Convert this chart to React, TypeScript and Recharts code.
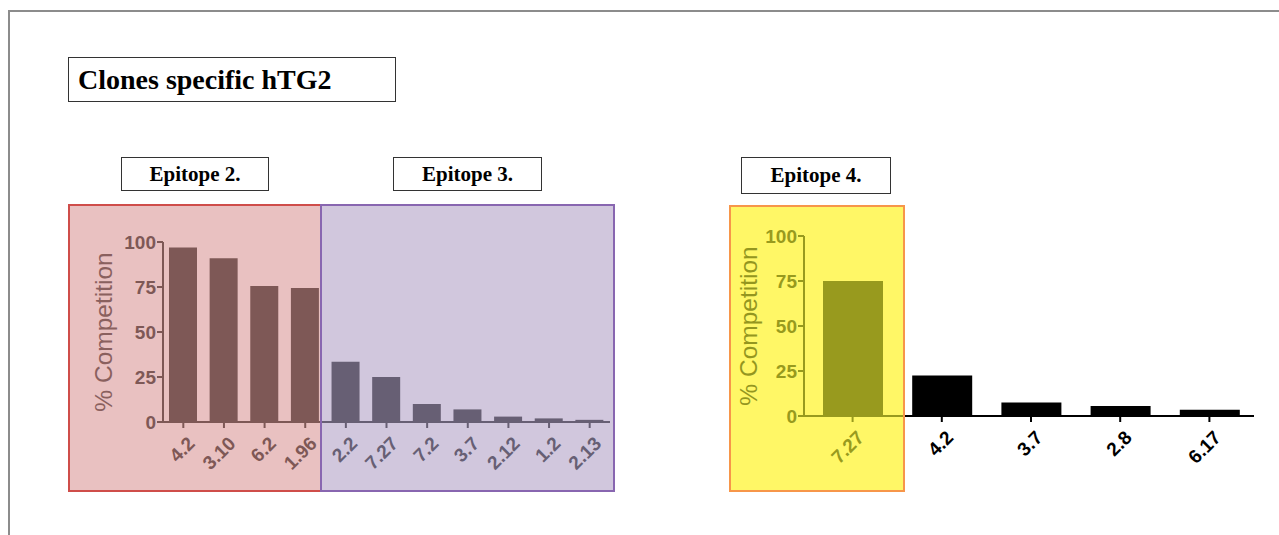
import { BarChart, Bar, Cell, XAxis, YAxis } from "recharts"

// clones tested against hTG2, grouped by epitope
const leftClones = ["4.2", "3.10", "6.2", "1.96", "2.2", "7.27", "7.2", "3.7", "2.12", "1.2", "2.13"]
const leftValues = [97, 91, 75.5, 74.5, 33.5, 25, 10, 7, 3, 2, 1.2]
const epitope2Count = 4 // first four clones belong to epitope 2, the rest to epitope 3

const rightClones = ["7.27", "4.2", "3.7", "2.8", "6.17"]
const rightValues = [75, 22.5, 7.5, 5.5, 3.5]
const epitope4Count = 1

const yTicks = [0, 25, 50, 75, 100]

const leftData = leftClones.map((clone, i) => ({ clone, value: leftValues[i] }))
const rightData = rightClones.map((clone, i) => ({ clone, value: rightValues[i] }))

const SANS = "'Liberation Sans', Arial, sans-serif"
const SERIF = "'Liberation Serif', 'Times New Roman', serif"

const RED_BG = "#e9c1c1"
const RED_BORDER = "#cf4d4a"
const RED_INK = "#7e5856"
const RED_LABEL = "#8a605e"
const PURPLE_BG = "#d1c7dd"
const PURPLE_BORDER = "#8866b0"
const PURPLE_INK = "#675f74"
const YELLOW_BG = "#fff766"
const YELLOW_BORDER = "#f7964a"
const OLIVE_INK = "#989a1e"
const OLIVE_LABEL = "#94961f"

function makeTick(colorOf: (i: number) => string) {
  return (props: any) => {
    const { x, y, payload, index } = props
    return (
      <g transform={`translate(${x + 3},${y + 5})`}>
        <text
          textAnchor="end"
          dy="0.72em"
          transform="rotate(-45)"
          fill={colorOf(index)}
          fontSize={19}
          fontWeight="bold"
          fontFamily={SANS}
        >
          {payload.value}
        </text>
      </g>
    )
  }
}

const box = (left: number, top: number, width: number, height: number, extra: any) => ({
  position: "absolute" as const,
  left,
  top,
  width,
  height,
  boxSizing: "border-box" as const,
  ...extra,
})

export default function App() {
  const leftColor = (i: number) => (i < epitope2Count ? RED_INK : PURPLE_INK)
  const rightColor = (i: number) => (i < epitope4Count ? OLIVE_INK : "#000")

  return (
    <div style={{ position: "absolute", left: 0, top: 0, width: 1279, height: 535, background: "#fff", overflow: "hidden" }}>
      {/* slide frame */}
      <div style={box(8, 10, 1290, 540, { borderTop: "2px solid #8c8c8c", borderLeft: "2px solid #8c8c8c" })} />

      {/* title boxes */}
      <div
        style={box(68, 57, 328, 45, {
          border: "1px solid #333",
          fontFamily: SERIF,
          fontWeight: "bold",
          fontSize: 28,
          lineHeight: "43px",
          paddingLeft: 9,
        })}
      >
        Clones specific hTG2
      </div>
      {[
        { text: "Epitope 2.", left: 121, width: 148, height: 34 },
        { text: "Epitope 3.", left: 393, width: 149, height: 34 },
        { text: "Epitope 4.", left: 741, width: 150, height: 37 },
      ].map((b) => (
        <div
          key={b.text}
          style={box(b.left, 157, b.width, b.height, {
            border: "1px solid #333",
            fontFamily: SERIF,
            fontWeight: "bold",
            fontSize: 21,
            lineHeight: `${b.height - 2}px`,
            textAlign: "center",
          })}
        >
          {b.text}
        </div>
      ))}

      {/* coloured epitope regions */}
      <div style={box(68, 204, 253, 288, { background: RED_BG })} />
      <div style={box(321, 204, 294, 288, { background: PURPLE_BG })} />
      <div style={box(729, 205, 176, 287, { background: YELLOW_BG })} />

      <div style={{ position: "absolute", left: 68, top: 204 }}>
        <BarChart width={546} height={287} data={leftData} margin={{ top: 38, right: 4, bottom: 1, left: 0 }}>
          <defs>
            <linearGradient id="leftAxis" gradientUnits="userSpaceOnUse" x1={95} y1={0} x2={542} y2={0}>
              <stop offset={0.3535} stopColor={RED_INK} />
              <stop offset={0.3535} stopColor={PURPLE_INK} />
            </linearGradient>
          </defs>
          <XAxis
            dataKey="clone"
            height={68}
            interval={0}
            tickSize={6}
            tickMargin={2}
            axisLine={{ stroke: "url(#leftAxis)", strokeWidth: 2 }}
            tickLine={{ stroke: "url(#leftAxis)", strokeWidth: 2 }}
            tick={makeTick(leftColor)}
          />
          <YAxis
            width={95}
            domain={[0, 100]}
            ticks={yTicks}
            interval={0}
            tickSize={6}
            tickMargin={1}
            axisLine={{ stroke: RED_INK, strokeWidth: 2 }}
            tickLine={{ stroke: RED_INK, strokeWidth: 2 }}
            tick={{ fill: RED_INK, fontSize: 19, fontWeight: "bold", fontFamily: SANS }}
            label={{
              value: "% Competition",
              angle: -90,
              position: "insideLeft",
              offset: 35,
              style: { textAnchor: "middle", fill: RED_LABEL, fontSize: 24.5, fontFamily: SANS },
            }}
          />
          <Bar dataKey="value" barSize={28} isAnimationActive={false}>
            {leftData.map((d, i) => (
              <Cell key={d.clone + i} fill={leftColor(i)} />
            ))}
          </Bar>
        </BarChart>
      </div>

      <div style={{ position: "absolute", left: 729, top: 205 }}>
        <BarChart width={531} height={286} data={rightData} margin={{ top: 31, right: 6, bottom: 0, left: 0 }}>
          <defs>
            <linearGradient id="rightAxis" gradientUnits="userSpaceOnUse" x1={75} y1={0} x2={525} y2={0}>
              <stop offset={0.222} stopColor={OLIVE_INK} />
              <stop offset={0.222} stopColor="#000" />
            </linearGradient>
          </defs>
          <XAxis
            dataKey="clone"
            height={75}
            interval={0}
            padding={{ left: 4, right: 0 }}
            tickSize={6}
            tickMargin={2}
            axisLine={{ stroke: "url(#rightAxis)", strokeWidth: 2 }}
            tickLine={{ stroke: "url(#rightAxis)", strokeWidth: 2 }}
            tick={makeTick(rightColor)}
          />
          <YAxis
            width={75}
            domain={[0, 100]}
            ticks={yTicks}
            interval={0}
            tickSize={6}
            tickMargin={1}
            axisLine={{ stroke: OLIVE_INK, strokeWidth: 2 }}
            tickLine={{ stroke: OLIVE_INK, strokeWidth: 2 }}
            tick={{ fill: OLIVE_INK, fontSize: 19, fontWeight: "bold", fontFamily: SANS }}
            label={{
              value: "% Competition",
              angle: -90,
              position: "insideLeft",
              offset: 19,
              style: { textAnchor: "middle", fill: OLIVE_LABEL, fontSize: 24.5, fontFamily: SANS },
            }}
          />
          <Bar dataKey="value" barSize={60} isAnimationActive={false}>
            {rightData.map((d, i) => (
              <Cell key={d.clone + i} fill={rightColor(i)} />
            ))}
          </Bar>
        </BarChart>
      </div>

      {/* region outlines drawn over the charts */}
      <div style={box(68, 204, 254, 288, { border: `2px solid ${RED_BORDER}`, pointerEvents: "none" })} />
      <div style={box(320, 204, 295, 288, { border: `2px solid ${PURPLE_BORDER}`, pointerEvents: "none" })} />
      <div style={box(729, 205, 176, 287, { border: `2px solid ${YELLOW_BORDER}`, pointerEvents: "none" })} />
    </div>
  )
}
